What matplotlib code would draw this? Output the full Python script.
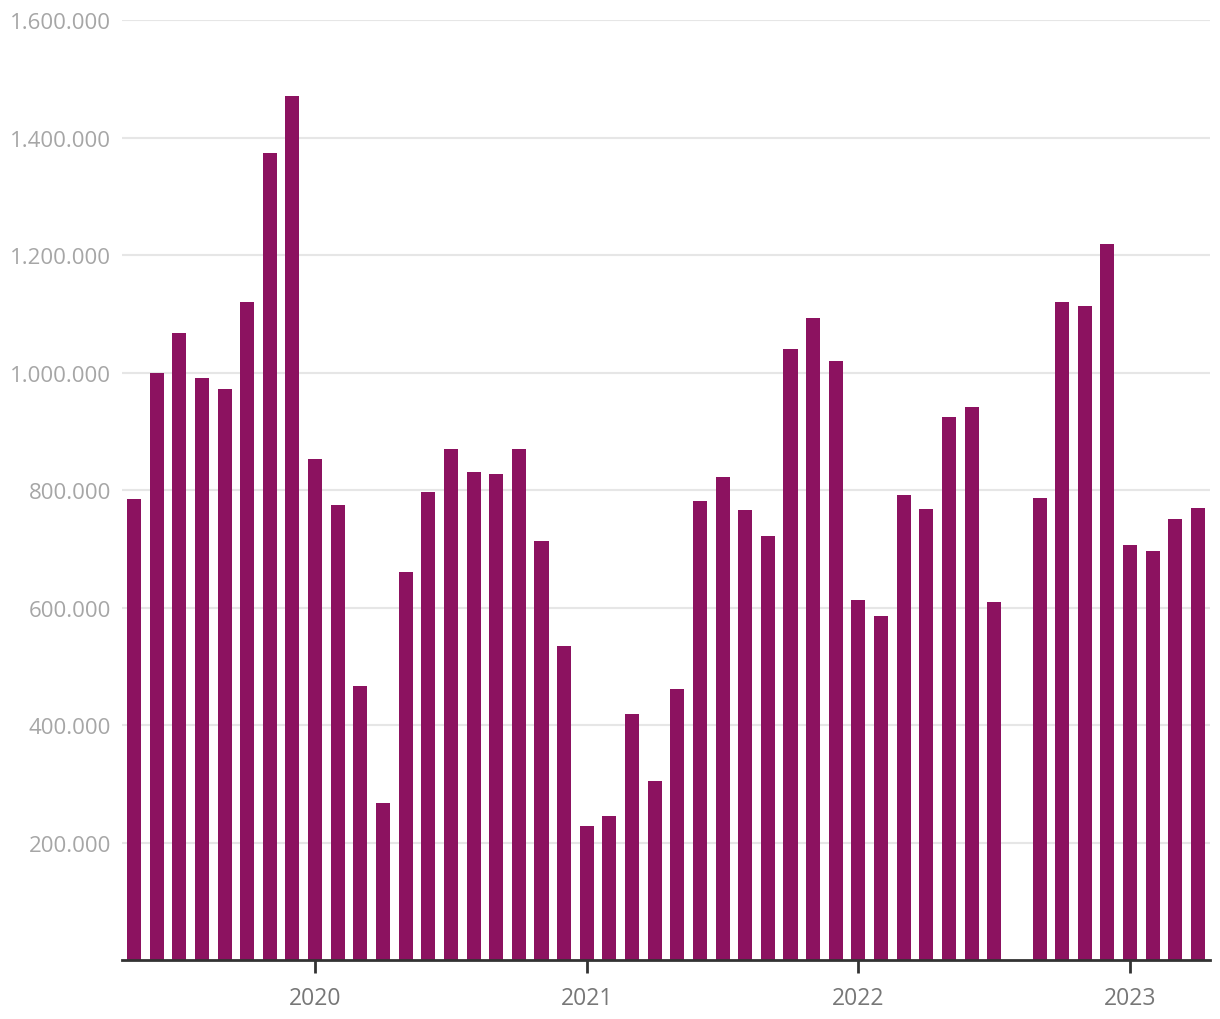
import matplotlib.pyplot as plt
import numpy as np

plt.rcParams['font.family'] = ['Open Sans', 'DejaVu Sans']

# monthly values, May 2019 - April 2023 (Aug 2022 missing)
months = ['2019-05', '2019-06', '2019-07', '2019-08', '2019-09', '2019-10', '2019-11', '2019-12',
          '2020-01', '2020-02', '2020-03', '2020-04', '2020-05', '2020-06', '2020-07', '2020-08',
          '2020-09', '2020-10', '2020-11', '2020-12', '2021-01', '2021-02', '2021-03', '2021-04',
          '2021-05', '2021-06', '2021-07', '2021-08', '2021-09', '2021-10', '2021-11', '2021-12',
          '2022-01', '2022-02', '2022-03', '2022-04', '2022-05', '2022-06', '2022-07', '2022-08',
          '2022-09', '2022-10', '2022-11', '2022-12', '2023-01', '2023-02', '2023-03', '2023-04']
values = [785000, 1000000, 1068000, 990000, 972000, 1120000, 1373000, 1470000,
          853000, 775000, 466000, 267000, 660000, 796000, 869000, 831000,
          827000, 869000, 713000, 535000, 228000, 245000, 419000, 305000,
          461000, 781000, 823000, 766000, 722000, 1040000, 1093000, 1019000,
          613000, 586000, 791000, 768000, 924000, 941000, 610000, np.nan,
          787000, 1120000, 1114000, 1219000, 706000, 697000, 750000, 770000]
year_ticks = ['2020', '2021', '2022', '2023']

x = np.arange(len(months))
tick_pos = [months.index(y + '-01') for y in year_ticks]

fig = plt.figure(figsize=(12.2, 10.2), dpi=100)
ax = fig.add_axes([0.1, 0.0578, 0.8918, 0.9216])

ax.bar(x, values, width=0.62, color='#8C1260', zorder=3)

ax.set_xlim(-0.53, len(months) - 0.47)
ax.set_ylim(0, 1600000)
yt = np.arange(200000, 1600001, 200000)
ax.set_yticks(yt)
ax.set_yticklabels([f'{v:,}'.replace(',', '.') for v in yt])
ax.yaxis.grid(True, color='#E6E6E6', linewidth=1.5, zorder=0)
ax.tick_params(axis='y', length=0, pad=8, labelsize=16, labelcolor='#A6A6A6')

ax.set_xticks(tick_pos)
ax.set_xticklabels(year_ticks)
ax.tick_params(axis='x', length=9, width=2, color='#333333', pad=10, labelsize=16.5, labelcolor='#777777')

for s in ['top', 'right', 'left']:
    ax.spines[s].set_visible(False)
ax.spines['bottom'].set_color('#333333')
ax.spines['bottom'].set_linewidth(2)
ax.spines['bottom'].set_zorder(4)

fig.savefig('out.png')
